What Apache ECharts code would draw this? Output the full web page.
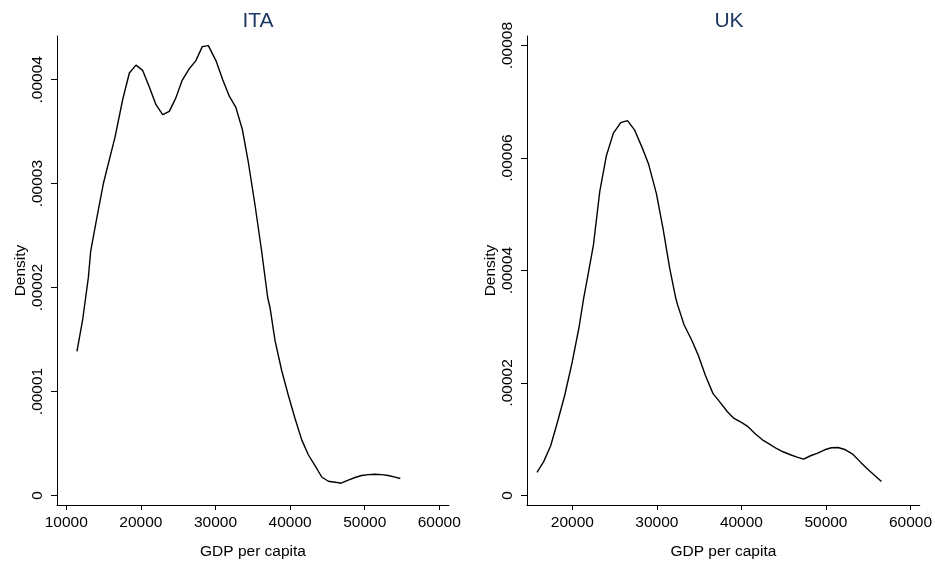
<!DOCTYPE html>
<html>
<head>
<meta charset="utf-8">
<script src="https://cdn.jsdelivr.net/npm/echarts@6/dist/echarts.min.js"></script>
<style>html,body{margin:0;padding:0;background:#fff}#c{width:935px;height:565px}</style>
</head>
<body>
<div id="c"></div>
<script>
// ---- Data (GDP per capita, density in units of 1e-5) ----
var itaX = [11430,12200,12950,13270,14080,14960,16530,17560,18450,19340,20240,21130,22020,22920,23810,24670,25510,26450,27350,28230,29040,30070,30970,31850,32710,33590,34400,35300,36190,37000,37310,37980,38870,39760,40660,41560,42440,43340,44240,45120,46020,46820,47800,48700,49600,50480,51380,52280,53160,54060,54770];
var itaY = [1.386,1.695,2.093,2.350,2.665,2.999,3.448,3.810,4.065,4.141,4.090,3.931,3.760,3.664,3.696,3.823,3.991,4.103,4.182,4.319,4.328,4.182,4.001,3.842,3.737,3.524,3.206,2.792,2.347,1.902,1.806,1.489,1.202,0.964,0.740,0.534,0.391,0.286,0.177,0.136,0.127,0.117,0.146,0.172,0.191,0.200,0.203,0.200,0.191,0.175,0.162];
var ukX = [15810,16600,17430,18300,19090,19950,20780,21340,21780,22490,23230,24020,24850,25720,26510,27370,28240,29030,29940,30720,31510,32220,32430,33210,34150,34860,35740,36640,37430,38340,39120,40000,40780,41660,42480,43270,44140,44920,45800,46580,47370,48170,48950,49860,50650,51430,52310,53210,54120,54980,55770,56570];
var ukY = [0.411,0.600,0.882,1.340,1.781,2.351,2.986,3.515,3.868,4.455,5.397,6.042,6.443,6.631,6.667,6.496,6.190,5.884,5.367,4.750,4.044,3.515,3.397,3.034,2.751,2.504,2.134,1.810,1.663,1.487,1.369,1.298,1.222,1.093,0.988,0.917,0.834,0.776,0.723,0.681,0.646,0.705,0.746,0.811,0.847,0.852,0.811,0.728,0.587,0.459,0.353,0.247];
var titles = ['ITA', 'UK'];
var xTicksIta = [10000,20000,30000,40000,50000,60000];
var xTicksUk = [20000,30000,40000,50000,60000];
var yTicksIta = [0,0.00001,0.00002,0.00003,0.00004];
var yTicksUk = [0,0.00002,0.00004,0.00006,0.00008];
var xName = 'GDP per capita';
var yName = 'Density';
var scale = 1e-5;

function pairs(xs, ys){ return xs.map(function(x,i){ return [x, ys[i]*scale]; }); }
function fmtY(v){
  if (Math.abs(v) < 1e-12) return '0';
  var s = v.toFixed(5);
  return s.replace(/^0/, '');
}
function fmtX(v){ return String(Math.round(v)); }
var FONT = '"Liberation Sans", Arial, sans-serif';
var axisCommonX = function(ticks, min, max, idx){
  return {
    type:'value', gridIndex: idx, min:min, max:max,
    name: xName, nameLocation:'middle', nameGap: 39,
    nameTextStyle:{color:'#000', fontSize:15.5, fontFamily:FONT},
    axisLine:{show:true, onZero:false, lineStyle:{color:'#000', width:1}},
    axisTick:{show:true, length:5, inside:false, customValues: ticks, lineStyle:{color:'#000'}},
    axisLabel:{show:true, customValues: ticks, margin:10, color:'#000', fontSize:15.5, fontFamily:FONT, formatter: fmtX},
    splitLine:{show:false}
  };
};
var axisCommonY = function(ticks, min, max, idx){
  return {
    type:'value', gridIndex: idx, min:min, max:max,
    name: yName, nameLocation:'middle', nameGap: 28, nameRotate: 90,
    nameTextStyle:{color:'#000', fontSize:15.5, fontFamily:FONT},
    axisLine:{show:true, onZero:false, lineStyle:{color:'#000', width:1}},
    axisTick:{show:true, length:6, inside:false, customValues: ticks, lineStyle:{color:'#000'}},
    axisLabel:{show:true, customValues: ticks, rotate:90, margin:11, color:'#000', fontSize:15.5, fontFamily:FONT, formatter: fmtY},
    splitLine:{show:false}
  };
};

var chart = echarts.init(document.getElementById('c'), null, {renderer:'canvas'});
chart.setOption({
  animation:false,
  backgroundColor:'#fff',
  title:[
    {text:titles[0], left:253, top:6, textAlign:'center', textStyle:{color:'#1f3864', fontSize:21, fontWeight:'normal', fontFamily:FONT}},
    {text:titles[1], left:724, top:6, textAlign:'center', textStyle:{color:'#1f3864', fontSize:21, fontWeight:'normal', fontFamily:FONT}}
  ],
  grid:[
    {left:57, top:36, width:392, height:473},
    {left:527, top:36, width:393, height:473}
  ],
  xAxis:[
    axisCommonX(xTicksIta, 8753, 61300, 0),
    axisCommonX(xTicksUk, 14627, 61100, 1)
  ],
  yAxis:[
    axisCommonY(yTicksIta, -0.0926e-5, 4.421e-5, 0),
    axisCommonY(yTicksUk, -0.171e-5, 8.171e-5, 1)
  ],
  series:[
    {type:'line', xAxisIndex:0, yAxisIndex:0, data:pairs(itaX, itaY), showSymbol:false, smooth:false, lineStyle:{color:'#000', width:1.4}},
    {type:'line', xAxisIndex:1, yAxisIndex:1, data:pairs(ukX, ukY), showSymbol:false, smooth:false, lineStyle:{color:'#000', width:1.4}}
  ]
});
</script>
</body>
</html>
